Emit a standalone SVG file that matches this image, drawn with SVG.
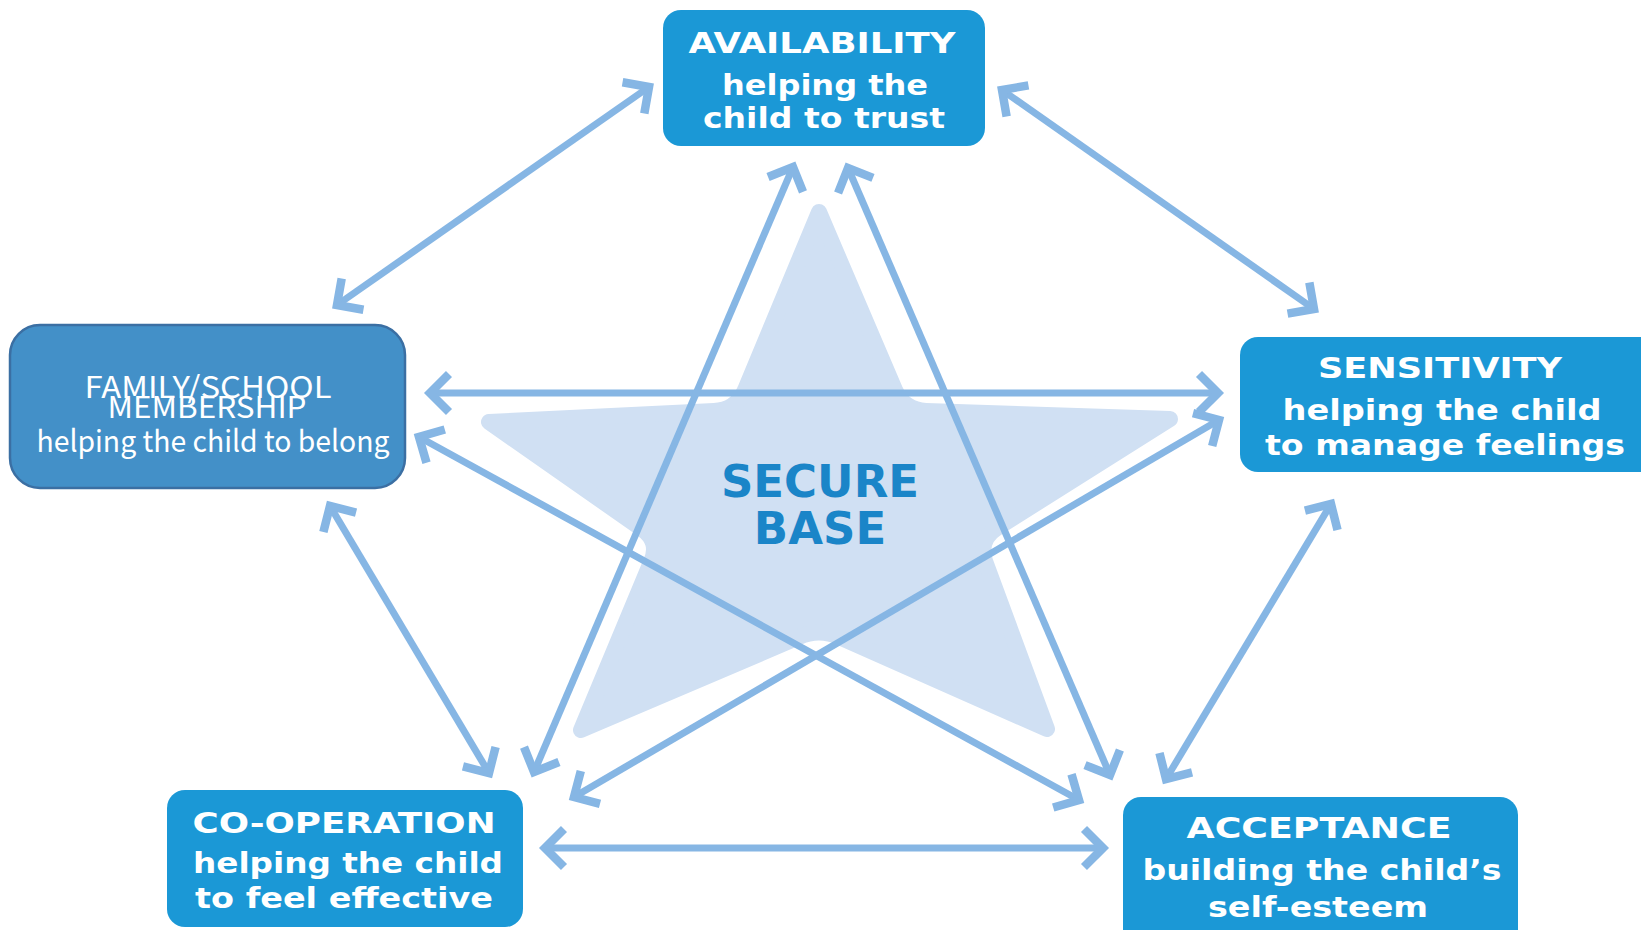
<svg xmlns="http://www.w3.org/2000/svg" width="1641" height="930" viewBox="0 0 1641 930">
<style>
.box{fill:#1b98d6;}
.fam{fill:#4390c8;stroke:#3b6fa3;stroke-width:2.5;}
.t{font-family:"DejaVu Sans","Liberation Sans",sans-serif;font-weight:bold;fill:#ffffff;text-anchor:middle;}
.ft{font-family:"Noto Sans CJK JP","Noto Sans",sans-serif;font-weight:400;fill:#ffffff;text-anchor:middle;font-size:30px;}
.sb{font-family:"DejaVu Sans","Liberation Sans",sans-serif;font-weight:bold;fill:#1a85c8;text-anchor:middle;font-size:45px;}
.arr{stroke:#86b6e4;stroke-width:7;fill:none;marker-start:url(#ah);marker-end:url(#ah);}
</style>
<defs>
<marker id="ah" markerUnits="userSpaceOnUse" markerWidth="60" markerHeight="60" refX="0" refY="0" orient="auto-start-reverse" overflow="visible" viewBox="-30 -30 60 60">
<path d="M -19 -19 L 0 0 L -19 19" fill="none" stroke="#86b6e4" stroke-width="8.5" stroke-linejoin="miter" stroke-linecap="butt"/>
</marker>
</defs>
<rect width="1641" height="930" fill="#ffffff"/>
<g id="star">
<path d="M 819 212 L 895 390 Q 904 410 926 411 L 1170 419 L 997 528 Q 978 540 985 561 L 1047 729 L 839 637 Q 819 628 799 637 L 581 730 L 651 562 Q 660 542 642 529 L 489 422 L 714 411 Q 736 410 745 390 Z" fill="#d0e0f3" stroke="#d0e0f3" stroke-width="16" stroke-linejoin="round"/>
<text class="sb" x="820" y="497">SECURE</text>
<text class="sb" x="820" y="544">BASE</text>
</g>
<g id="connectors">
<line class="arr" x1="649" y1="87" x2="337" y2="305"/>
<line class="arr" x1="1002" y1="90" x2="1314" y2="309"/>
<line class="arr" x1="430" y1="393" x2="1218" y2="393"/>
<line class="arr" x1="419" y1="437" x2="1079" y2="800"/>
<line class="arr" x1="1219" y1="420" x2="574" y2="797"/>
<line class="arr" x1="793" y1="167" x2="534" y2="772"/>
<line class="arr" x1="848" y1="168" x2="1110" y2="775"/>
<line class="arr" x1="330" y1="506" x2="489" y2="773"/>
<line class="arr" x1="1331" y1="504" x2="1166" y2="779"/>
<line class="arr" x1="545" y1="848" x2="1103" y2="848"/>
</g>
<g id="availability">
<rect class="box" x="663" y="10" width="322" height="136" rx="18"/>
<text class="t" x="822" y="53" font-size="29" textLength="267" lengthAdjust="spacingAndGlyphs">AVAILABILITY</text>
<text class="t" x="825" y="95" font-size="28" textLength="206" lengthAdjust="spacingAndGlyphs">helping the</text>
<text class="t" x="824" y="128" font-size="28" textLength="242" lengthAdjust="spacingAndGlyphs">child to trust</text>
</g>
<g id="family">
<rect class="fam" x="10" y="325" width="395" height="163" rx="30"/>
<text class="ft" x="208" y="398" textLength="247" lengthAdjust="spacingAndGlyphs">FAMILY/SCHOOL</text>
<text class="ft" x="207" y="418" textLength="199" lengthAdjust="spacingAndGlyphs">MEMBERSHIP</text>
<text class="ft" x="213" y="452" textLength="353" lengthAdjust="spacingAndGlyphs">helping the child to belong</text>
</g>
<g id="sensitivity">
<rect class="box" x="1240" y="337" width="420" height="135" rx="18"/>
<text class="t" x="1440" y="378" font-size="29" textLength="244" lengthAdjust="spacingAndGlyphs">SENSITIVITY</text>
<text class="t" x="1442" y="420" font-size="28" textLength="319" lengthAdjust="spacingAndGlyphs">helping the child</text>
<text class="t" x="1445" y="455" font-size="28" textLength="360" lengthAdjust="spacingAndGlyphs">to manage feelings</text>
</g>
<g id="cooperation">
<rect class="box" x="167" y="790" width="356" height="137" rx="18"/>
<text class="t" x="344" y="833" font-size="29" textLength="303" lengthAdjust="spacingAndGlyphs">CO-OPERATION</text>
<text class="t" x="348" y="873" font-size="28" textLength="310" lengthAdjust="spacingAndGlyphs">helping the child</text>
<text class="t" x="344" y="908" font-size="28" textLength="298" lengthAdjust="spacingAndGlyphs">to feel effective</text>
</g>
<g id="acceptance">
<rect class="box" x="1123" y="797" width="395" height="150" rx="18"/>
<text class="t" x="1319" y="838" font-size="29" textLength="265" lengthAdjust="spacingAndGlyphs">ACCEPTANCE</text>
<text class="t" x="1322" y="880" font-size="28" textLength="359" lengthAdjust="spacingAndGlyphs">building the child’s</text>
<text class="t" x="1318" y="917" font-size="28" textLength="220" lengthAdjust="spacingAndGlyphs">self-esteem</text>
</g>
</svg>
